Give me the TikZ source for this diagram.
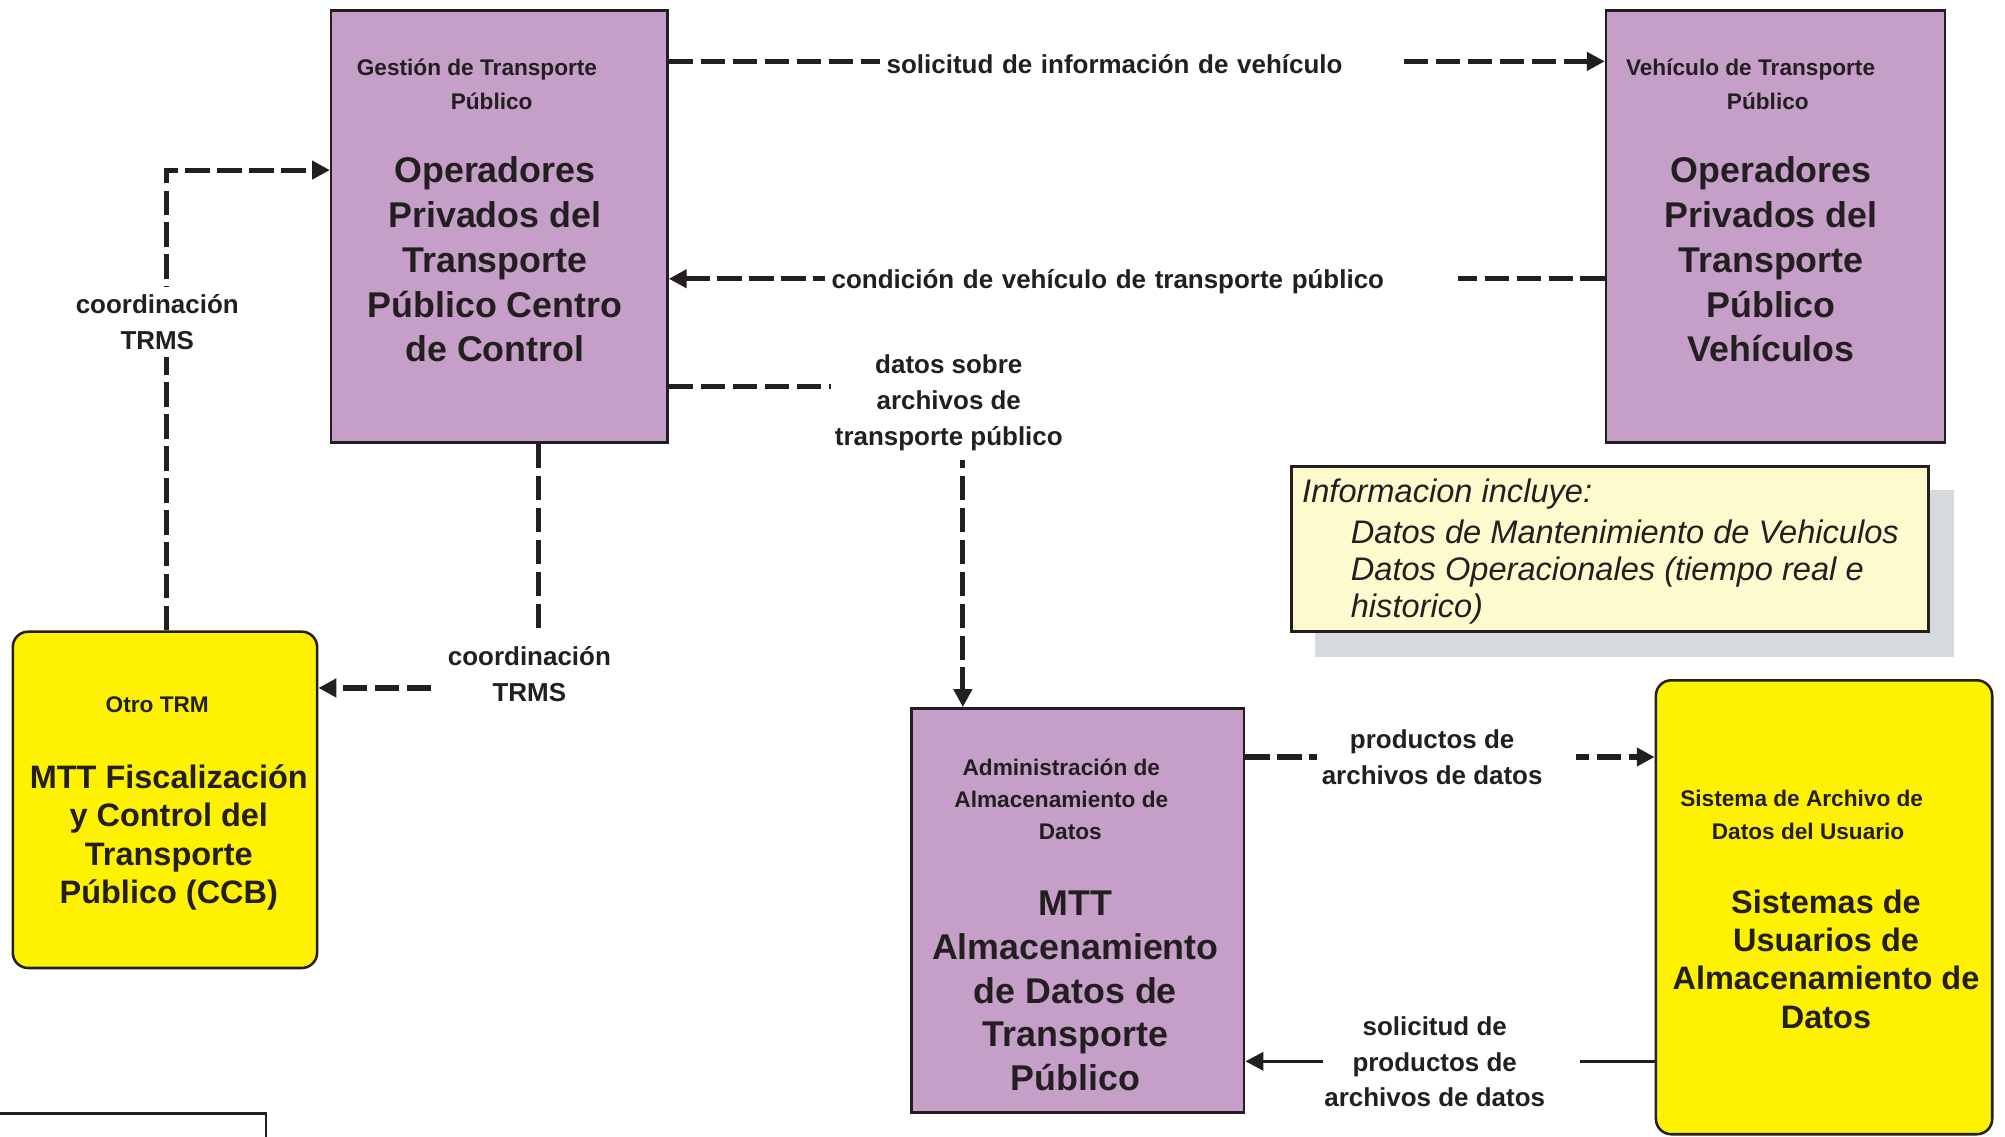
\documentclass[tikz,border=0pt]{standalone}
\usepackage{fontspec}
\setmainfont{Liberation Sans}
\usetikzlibrary{arrows.meta,fit,calc}
\definecolor{ink}{HTML}{231F20}
\definecolor{lilac}{HTML}{C59FC8}
\definecolor{sun}{HTML}{FFF200}
\definecolor{notefill}{HTML}{FFFACD}
\definecolor{shadowgray}{HTML}{D7DADD}
\begin{document}
\begin{tikzpicture}[x=0.5pt,y=-0.5pt,
  purplebox/.style={draw=ink, line width=1pt, fill=lilac, inner sep=0pt},
  yellowbox/.style={draw=ink, line width=1pt, fill=sun, inner sep=0pt, rounded corners=6pt},
  ttl/.style={font=\fontsize{8.85}{13}\selectfont\bfseries, text=ink, align=center, inner sep=0pt},
  bigp/.style={font=\fontsize{14}{17.5}\selectfont\bfseries, text=ink, align=center, inner sep=0pt},
  bigy/.style={font=\fontsize{12.7}{15}\selectfont\bfseries, text=ink, align=center, inner sep=0pt},
  lbl/.style={font=\fontsize{10.15}{14}\selectfont\bfseries, text=ink, align=center, fill=white, inner sep=2pt},
  flow/.style={draw=ink, line width=2pt, dash pattern=on 9.5pt off 3pt, -{Triangle[length=7pt,width=7pt]}},
  solidflow/.style={draw=ink, line width=1.4pt, -{Triangle[length=7pt,width=7pt]}},
  notetext/.style={font=\fontsize{12.75}{14.5}\selectfont\itshape, text=ink, align=left, inner sep=0pt}
]
\useasboundingbox (0,0) rectangle (1568,889);

% boxes
\node[purplebox, fit={(259,8) (522,346)}] (A) {};
\node[purplebox, fit={(1256,8) (1521,346)}] (B) {};
\node[yellowbox, fit={(10,494) (248,757)}] (C) {};
\node[purplebox, fit={(713,554) (973,870)}] (D) {};
\node[yellowbox, fit={(1295,532) (1558,887)}] (E) {};

% box texts
\node[ttl] (At) at (373,66) {Gestión de Transporte\\\hspace*{11.5pt}Público};
\node[bigp] (Am) at (387,203) {Operadores\\Privados del\\Transporte\\Público Centro\\de Control};
\node[ttl] (Bt) at (1369,66) {Vehículo de Transporte\\\hspace*{13.5pt}Público};
\node[bigp] (Bm) at (1385,203) {Operadores\\Privados del\\Transporte\\Público\\Vehículos};
\node[ttl] (Ct) at (123,551) {Otro TRM};
\node[bigy] (Cm) at (132,655) {MTT Fiscalización\\y Control del\\Transporte\\Público (CCB)};
\node[ttl, font=\fontsize{8.85}{12.5}\selectfont\bfseries] (Dt) at (830,625) {Administración de\\Almacenamiento de\\\hspace*{7pt}Datos};
\node[bigp, font=\fontsize{14}{17.1}\selectfont\bfseries] (Dm) at (841,775) {MTT\\Almacenamiento\\de Datos de\\Transporte\\Público};
\node[ttl] (Et) at (1409,637) {Sistema de Archivo de\\\hspace*{5pt}Datos del Usuario};
\node[bigy] (Em) at (1428,750) {Sistemas de\\Usuarios de\\Almacenamiento de\\Datos};

% note
\fill[shadowgray] (1028,383) rectangle (1528,514);
\node[fit={(1010,365) (1508,494)}, draw=ink, fill=notefill, line width=1pt, inner sep=0pt] (N) {};
\node[notetext, anchor=north west] (Nt) at (1018,374) {Informacion incluye:\\[1.5pt]
\hspace*{19pt}Datos de Mantenimiento de Vehiculos\\
\hspace*{19pt}Datos Operacionales (tiempo real e\\
\hspace*{19pt}historico)};

% coordinates for connector rows/columns
\coordinate (y1) at (0,48);
\coordinate (y2) at (0,218);
\coordinate (y3) at (0,302);
\coordinate (x3) at (753,0);
\coordinate (x4) at (421,0);
\coordinate (y4) at (0,538);
\coordinate (x5) at (130,0);
\coordinate (y5) at (0,133);
\coordinate (y6) at (0,592);
\coordinate (y7) at (0,830);

% connectors
\draw[flow] (A.east |- y1) -- (B.west |- y1);
\node[lbl, anchor=west, inner xsep=2.5pt, text width=198.5pt, align=left] (L1) at (688,50) {solicitud de información de vehículo};

\draw[flow] (B.west |- y2) -- (A.east |- y2);
\node[lbl, anchor=west, inner xsep=2.5pt, text width=242.5pt, align=left] (L2) at (645,220) {condición de vehículo de transporte público};

\draw[flow] (A.east |- y3) -| (x3 |- D.north);
\node[lbl, inner xsep=1.5pt, inner ysep=3.5pt] (L3) at (742,315) {datos sobre\\archivos de\\transporte público};

\draw[flow] (x4 |- A.south) |- (C.east |- y4);
\node[lbl, inner xsep=5pt, inner ysep=4pt] (L4) at (414,527) {coordinación\\TRMS};

\draw[flow] (x5 |- C.north) |- (A.west |- y5);
\node[lbl, inner xsep=2pt, inner ysep=3pt] (L5) at (123,252) {coordinación\\TRMS};

\draw[flow] (D.east |- y6) -- (E.west |- y6);
\node[lbl, inner xsep=2pt] (L6) at (1131,594) {\begin{tabular}{@{}c@{}}productos de\\archivos de datos\end{tabular}\hspace*{11pt}};

\draw[solidflow] (E.west |- y7) -- (D.east |- y7);
\node[lbl, inner xsep=0.5pt] (L7) at (1135,832) {\begin{tabular}{@{}c@{}}solicitud de\\productos de\\archivos de datos\end{tabular}\hspace*{13pt}};

% partial frame bottom left
\draw[ink, line width=1pt] (0,871) -- (208,871) -- (208,889);
\end{tikzpicture}
\end{document}
